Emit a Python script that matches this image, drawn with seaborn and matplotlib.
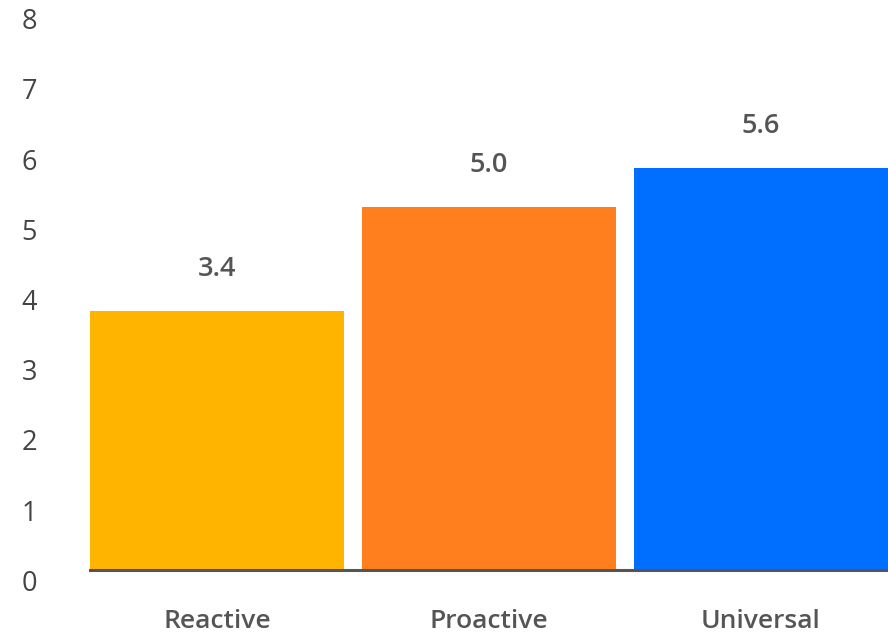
import matplotlib
matplotlib.use("Agg")
import matplotlib.pyplot as plt
import seaborn as sns
import pandas as pd

# Data
categories = ["Reactive", "Proactive", "Universal"]
bar_heights = [3.69, 5.17, 5.72]
value_labels = ["3.4", "5.0", "5.6"]
bar_colors = ["#FFB400", "#FF7F1F", "#006FFF"]
y_ticks = [0, 1, 2, 3, 4, 5, 6, 7, 8]

df = pd.DataFrame({"category": categories, "height": bar_heights})

sns.set_theme(style="white")
plt.rcParams["font.family"] = ["Open Sans", "DejaVu Sans"]

fig = plt.figure(figsize=(8.88, 6.34), dpi=100)
ax = fig.add_axes([90 / 888, 64 / 634, 798 / 888, 562 / 634])

sns.barplot(
    data=df,
    x="category",
    y="height",
    hue="category",
    palette=bar_colors,
    legend=False,
    saturation=1,
    width=0.934,
    linewidth=0,
    ax=ax,
)

# value labels above the bars
for cont, txt in zip(ax.containers, value_labels):
    ax.bar_label(cont, labels=[txt], padding=20, fontsize=19.5,
                 fontweight="semibold", color="#555555")

ax.set_xlim(-0.467, 2.467)
ax.set_ylim(0, 8)
ax.set_yticks(y_ticks)
ax.set_xlabel("")
ax.set_ylabel("")

for side in ["top", "right", "left"]:
    ax.spines[side].set_visible(False)
ax.spines["bottom"].set_color("#555555")
ax.spines["bottom"].set_linewidth(2.2)
ax.spines["bottom"].set_zorder(5)

ax.tick_params(axis="y", length=0, pad=38, labelsize=19.5, labelcolor="#444444")
ax.tick_params(axis="x", length=0, pad=28, labelsize=19, labelcolor="#555555")
for lbl in ax.get_yticklabels():
    lbl.set_verticalalignment("top")
for lbl in ax.get_xticklabels():
    lbl.set_fontweight("semibold")

fig.savefig("out.png", dpi=100)
